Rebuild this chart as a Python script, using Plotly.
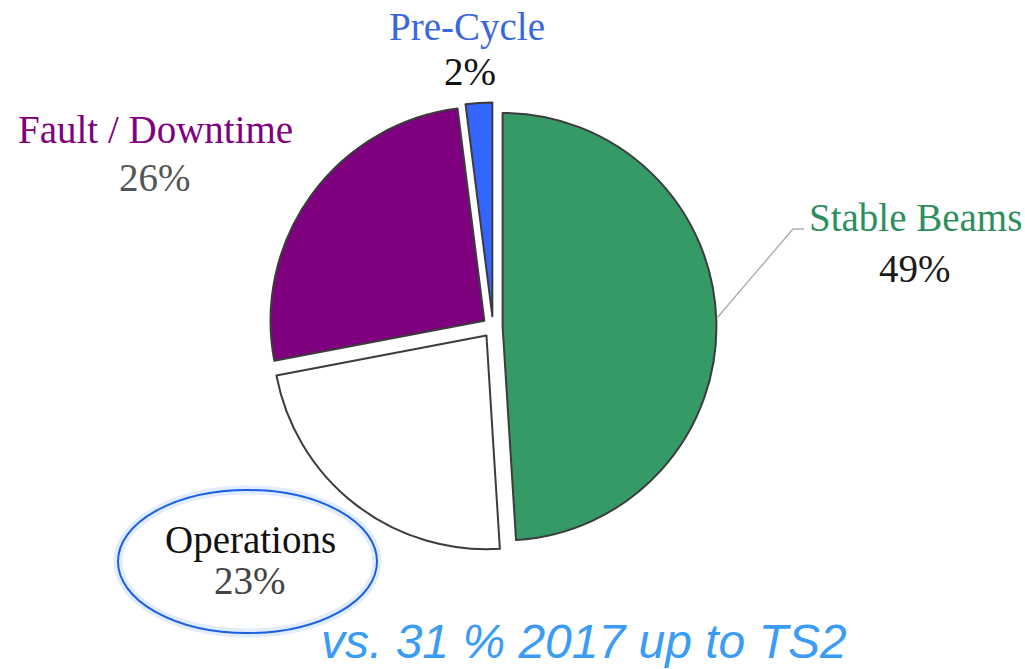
import plotly.graph_objects as go

# ---- data ----
labels = ["Stable Beams", "Operations", "Fault / Downtime", "Pre-Cycle"]
values = [49, 23, 26, 2]
slice_colors = ["#359a66", "#ffffff", "#7f007f", "#3366ff"]
label_colors = ["#2e8f5e", "#111111", "#800080", "#3a66e0"]
pct_colors = ["#1a1a1a", "#444444", "#555555", "#111111"]
pulls = [0.045, 0.05, 0.05, 0.05]
# label anchor positions (window px)
label_pos = [(915, 218), (250, 540), (155, 130), (467, 27)]
pct_pos = [(915, 268), (250, 580), (155, 178), (470, 72)]
footnote = "vs. 31 % 2017 up to TS2"

W, H = 1025, 669


def px(x):
    return x / W


def py(y):
    return 1 - y / H


fig = go.Figure()
fig.add_trace(go.Pie(
    labels=labels, values=values, sort=False, direction="clockwise", rotation=0,
    marker=dict(colors=slice_colors, line=dict(color="#3c3c3c", width=2)),
    pull=pulls, textinfo="none", hoverinfo="label+percent", showlegend=False,
    domain=dict(x=[px(268.5), px(717.5)], y=[py(551.5), py(102.5)]),
))

ann = []
for lab, v, lc, pc, (lx, ly), (qx, qy) in zip(labels, values, label_colors, pct_colors, label_pos, pct_pos):
    ann.append(dict(x=px(lx), y=py(ly), xref="paper", yref="paper", text=lab, showarrow=False,
                    font=dict(family="Liberation Serif", size=39, color=lc), xanchor="center", yanchor="middle"))
    ann.append(dict(x=px(qx), y=py(qy), xref="paper", yref="paper", text=f"{v}%", showarrow=False,
                    font=dict(family="Liberation Serif", size=39, color=pc), xanchor="center", yanchor="middle"))
ann.append(dict(x=px(584), y=py(641), xref="paper", yref="paper", text=f"<i>{footnote}</i>", showarrow=False,
                font=dict(family="Liberation Sans", size=48, color="#3a9cf5"), xanchor="center", yanchor="middle"))

shapes = [
    # leader line for Stable Beams
    dict(type="path", xref="paper", yref="paper",
         path=f"M {px(717)} {py(318)} L {px(793)} {py(229)} L {px(804)} {py(229)}",
         line=dict(color="#b0b0b0", width=1.5)),
    # glow around ellipse
    dict(type="circle", xref="paper", yref="paper", x0=px(118), x1=px(377), y0=py(633), y1=py(490),
         line=dict(color="rgba(120,170,255,0.22)", width=9)),
    dict(type="circle", xref="paper", yref="paper", x0=px(118), x1=px(377), y0=py(633), y1=py(490),
         line=dict(color="#1a5fe6", width=2)),
]

fig.update_layout(width=W, height=H, margin=dict(l=0, r=0, t=0, b=0),
                  paper_bgcolor="white", plot_bgcolor="white",
                  annotations=ann, shapes=shapes)
fig.write_html("out.html", config={"displayModeBar": False},
               post_script="document.body.style.margin='0';document.body.style.overflow='hidden';")
